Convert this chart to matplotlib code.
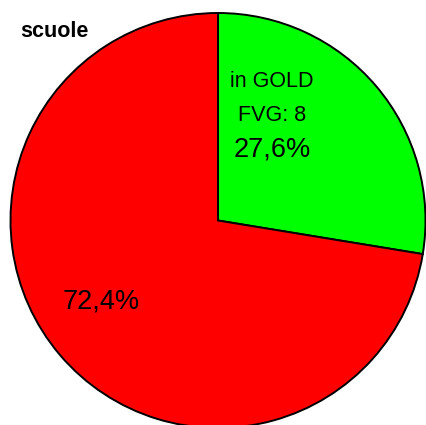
import matplotlib
matplotlib.use("Agg")
import matplotlib.pyplot as plt

title = "scuole"
categories = ["in GOLD\nFVG: 8", "non in GOLD"]
values = [8, 21]
colors = ["#00FF00", "#FF0000"]

plt.rcParams['font.family'] = ['Liberation Sans', 'DejaVu Sans']

W, H = 427, 425
fig = plt.figure(figsize=(W / 100, H / 100), dpi=100)
ax = fig.add_axes([0, 0, 1, 1])

cx, cy, r = 218, 220.5, 207.5
wedges, _ = ax.pie(values, colors=colors, startangle=90, counterclock=False,
                   center=(cx, -cy), radius=r,
                   wedgeprops=dict(edgecolor='black', linewidth=1.4))
ax.set_xlim(0, W)
ax.set_ylim(-H, 0)
ax.set_aspect('equal')
ax.axis('off')

total = sum(values)
pcts = [f"{v / total * 100:.1f}".replace('.', ',') + "%" for v in values]

lines = categories[0].split("\n")
ax.text(272, -81, lines[0], ha='center', va='center', fontsize=15.5)
ax.text(272, -115, lines[1], ha='center', va='center', fontsize=15.5)
ax.text(272, -149, pcts[0], ha='center', va='center', fontsize=19.5)
ax.text(101, -302, pcts[1], ha='center', va='center', fontsize=19.5)
ax.text(20, -31, title, ha='left', va='center', fontsize=15.5, fontweight='bold')

fig.savefig("out.png", dpi=100)
